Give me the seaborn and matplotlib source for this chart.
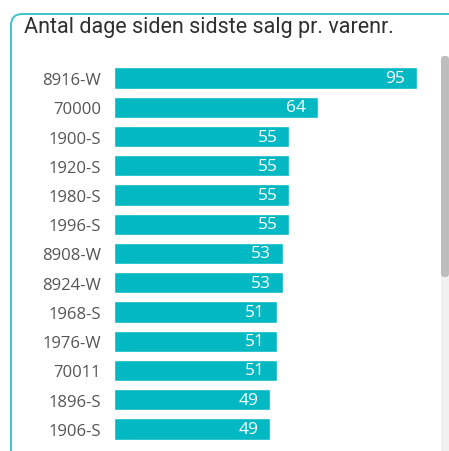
import matplotlib
matplotlib.use('Agg')
import matplotlib.pyplot as plt
from matplotlib.patches import FancyBboxPatch, Rectangle
import seaborn as sns
import pandas as pd

# data
varenr = ['8916-W', '70000', '1900-S', '1920-S', '1980-S', '1996-S', '8908-W',
          '8924-W', '1968-S', '1976-W', '70011', '1896-S', '1906-S']
dage = [95, 64, 55, 55, 55, 55, 53, 53, 51, 51, 51, 49, 49]

title = 'Antal dage siden sidste salg pr. varenr.'
bar_color = '#01B8C3'
border_color = '#3CC3CD'

W, H = 449, 452
sns.set_theme(style='white')
plt.rcParams['font.family'] = ['Open Sans', 'DejaVu Sans']

fig = plt.figure(figsize=(W / 100, H / 100), dpi=100)

def px(x0, y0, x1, y1):
    # pixel box (top-left origin) -> figure fraction rect
    return [x0 / W, 1 - y1 / H, (x1 - x0) / W, (y1 - y0) / H]

# card border (rounded top-left corner, runs off right and bottom)
fig.patches.append(FancyBboxPatch((11 / W, -20 / H), 460 / W, (H - 15 + 20) / H,
                                  boxstyle='round,pad=0,rounding_size=0.025',
                                  transform=fig.transFigure, fill=False,
                                  ec=border_color, lw=1.4))

fig.text(24 / W, 1 - 28 / H, title, fontsize=15.5, color='#2F2F2F',
         va='center', ha='left', family=['Roboto', 'DejaVu Sans'])

# scrollbar
fig.patches.append(Rectangle((441 / W, 0), 8 / W, 1 - 57 / H, transform=fig.transFigure,
                             fc='#F0F0F0', ec='none'))
fig.patches.append(FancyBboxPatch((441 / W, 1 - 278 / H), 8 / W, (278 - 57) / H,
                                  boxstyle='round,pad=0,rounding_size=0.008',
                                  transform=fig.transFigure, fc='#BDBDBD', ec='none'))

df = pd.DataFrame({'varenr': varenr, 'dage': dage})
ax = fig.add_axes(px(114, 64.4, 417, 444.6))
sns.barplot(data=df, x='dage', y='varenr', orient='h', color=bar_color,
            saturation=1, width=0.72, ax=ax)
ax.set_xlim(0, 95)
ax.set_ylim(12.5, -0.5)
ax.set_xlabel('')
ax.set_ylabel('')
ax.set_xticks([])
for s in ax.spines.values():
    s.set_visible(False)
ax.tick_params(axis='y', length=0, pad=9.5, labelsize=12, labelcolor='#555555')
ax.set_facecolor('none')

for i, v in enumerate(dage):
    ax.annotate(str(v), (v, i), xytext=(-12, 0), textcoords='offset pixels',
                ha='right', va='center', color='white', fontsize=12.5)

fig.savefig('out.png', dpi=100)
